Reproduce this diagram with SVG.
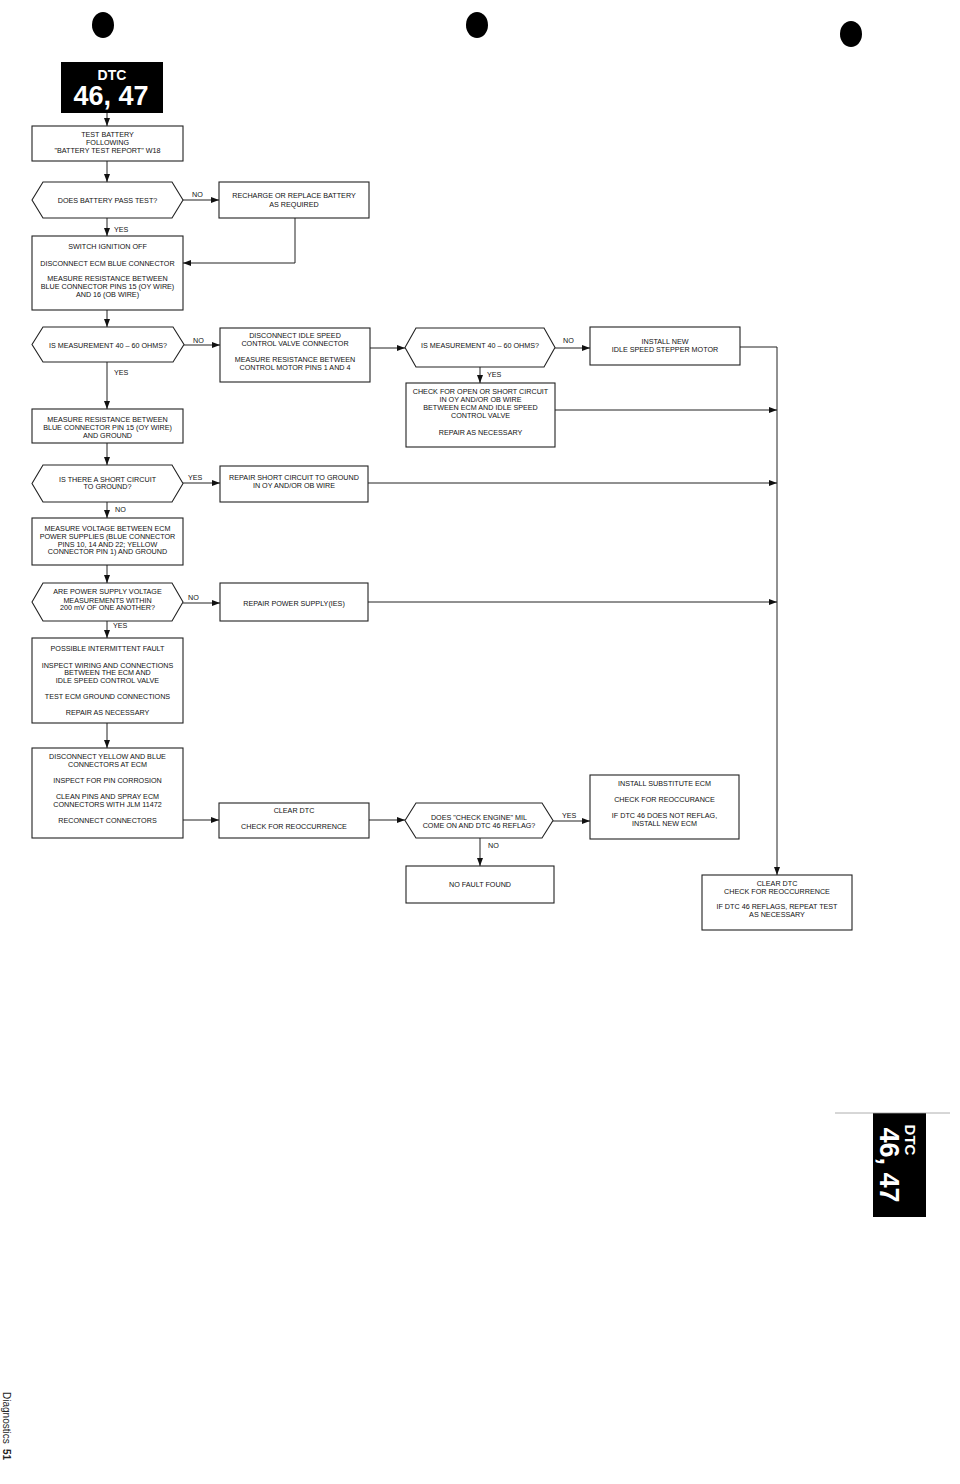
<svg xmlns="http://www.w3.org/2000/svg" width="960" height="1484" viewBox="0 0 960 1484">
<defs>
<marker id="arr" markerWidth="8" markerHeight="6" refX="8" refY="3" orient="auto" markerUnits="userSpaceOnUse">
<path d="M0,0 L8,3 L0,6 Z" fill="#111"/>
</marker>
<style>
.b{fill:#fff;stroke:#222;stroke-width:1.1}
.t{font-family:"Liberation Sans",Arial,sans-serif;font-size:7.2px;fill:#111;text-anchor:middle}
.l{font-family:"Liberation Sans",Arial,sans-serif;font-size:7.2px;fill:#111}
.c{fill:none;stroke:#222;stroke-width:1}
.ca{fill:none;stroke:#222;stroke-width:1;marker-end:url(#arr)}
</style>
</defs>
<rect width="960" height="1484" fill="#fff"/>
<g id="holes">
<ellipse cx="103" cy="25" rx="11" ry="13" fill="#000"/>
<ellipse cx="477" cy="25" rx="11" ry="13" fill="#000"/>
<ellipse cx="851" cy="34" rx="11" ry="13" fill="#000"/>
</g>
<g id="header">
<rect x="61" y="62" width="102" height="51" fill="#000"/>
<text x="112" y="80" font-family="Liberation Sans,Arial,sans-serif" font-weight="bold" font-size="14" fill="#fff" text-anchor="middle">DTC</text>
<text x="111" y="105" font-family="Liberation Sans,Arial,sans-serif" font-weight="bold" font-size="27" fill="#fff" text-anchor="middle">46, 47</text>
</g>
<g id="n1"><rect class="b" x="32" y="126" width="151" height="35"/>
<text class="t" x="107.5" y="137">TEST BATTERY</text><text class="t" x="107.5" y="145">FOLLOWING</text><text class="t" x="107.5" y="153">"BATTERY TEST REPORT" W18</text></g>
<g id="d1"><path class="b" d="M32,200 L43,182 L172,182 L183,200 L172,218 L43,218 Z"/>
<text class="t" x="107.5" y="202.5">DOES BATTERY PASS TEST?</text></g>
<g id="n2"><rect class="b" x="219" y="182" width="150" height="36"/>
<text class="t" x="294" y="198">RECHARGE OR REPLACE BATTERY</text><text class="t" x="294" y="206.5">AS REQUIRED</text></g>
<g id="n3"><rect class="b" x="32" y="236" width="151" height="74"/>
<text class="t" x="107.5" y="249">SWITCH IGNITION OFF</text>
<text class="t" x="107.5" y="266">DISCONNECT ECM BLUE CONNECTOR</text>
<text class="t" x="107.5" y="281">MEASURE RESISTANCE BETWEEN</text>
<text class="t" x="107.5" y="289">BLUE CONNECTOR PINS 15 (OY WIRE)</text>
<text class="t" x="107.5" y="297">AND 16 (OB WIRE)</text></g>
<g id="d2"><path class="b" d="M32,344.5 L43,327 L173,327 L184,344.5 L173,362 L43,362 Z"/>
<text class="t" x="108" y="347.5">IS MEASUREMENT 40 – 60 OHMS?</text></g>
<g id="n4"><rect class="b" x="220" y="328" width="150" height="54"/>
<text class="t" x="295" y="338">DISCONNECT IDLE SPEED</text>
<text class="t" x="295" y="346">CONTROL VALVE CONNECTOR</text>
<text class="t" x="295" y="362">MEASURE RESISTANCE BETWEEN</text>
<text class="t" x="295" y="370">CONTROL MOTOR PINS 1 AND 4</text></g>
<g id="d3"><path class="b" d="M405,347.5 L416,328 L544,328 L555,347.5 L544,367 L416,367 Z"/>
<text class="t" x="480" y="347.5">IS MEASUREMENT 40 – 60 OHMS?</text></g>
<g id="n5"><rect class="b" x="590" y="327" width="150" height="38"/>
<text class="t" x="665" y="344">INSTALL NEW</text><text class="t" x="665" y="352">IDLE SPEED STEPPER MOTOR</text></g>
<g id="n6"><rect class="b" x="406" y="383" width="149" height="64"/>
<text class="t" x="480.5" y="394">CHECK FOR OPEN  OR SHORT CIRCUIT</text>
<text class="t" x="480.5" y="402">IN OY AND/OR OB WIRE</text>
<text class="t" x="480.5" y="409.5">BETWEEN ECM AND IDLE SPEED</text>
<text class="t" x="480.5" y="417.5">CONTROL VALVE</text>
<text class="t" x="480.5" y="435">REPAIR AS NECESSARY</text></g>
<g id="n7"><rect class="b" x="32" y="409" width="151" height="34"/>
<text class="t" x="107.5" y="421.5">MEASURE RESISTANCE BETWEEN</text>
<text class="t" x="107.5" y="430">BLUE CONNECTOR PIN 15 (OY WIRE)</text>
<text class="t" x="107.5" y="438">AND GROUND</text></g>
<g id="d4"><path class="b" d="M32,483.5 L43,465 L172,465 L183,483.5 L172,502 L43,502 Z"/>
<text class="t" x="107.5" y="481.5">IS THERE A SHORT CIRCUIT</text><text class="t" x="107.5" y="489">TO GROUND?</text></g>
<g id="n8"><rect class="b" x="220" y="466" width="148" height="36"/>
<text class="t" x="294" y="480">REPAIR SHORT CIRCUIT TO GROUND</text><text class="t" x="294" y="487.5">IN OY AND/OR OB WIRE</text></g>
<g id="n9"><rect class="b" x="32" y="518" width="151" height="47"/>
<text class="t" x="107.5" y="531">MEASURE VOLTAGE BETWEEN ECM</text>
<text class="t" x="107.5" y="538.5">POWER SUPPLIES (BLUE CONNECTOR</text>
<text class="t" x="107.5" y="546.5">PINS 10, 14 AND 22; YELLOW</text>
<text class="t" x="107.5" y="554">CONNECTOR PIN 1) AND GROUND</text></g>
<g id="d5"><path class="b" d="M32,602 L43,583 L172,583 L183,602 L172,621 L43,621 Z"/>
<text class="t" x="107.5" y="594">ARE POWER SUPPLY VOLTAGE</text>
<text class="t" x="107.5" y="602.5">MEASUREMENTS WITHIN</text>
<text class="t" x="107.5" y="610">200 mV OF ONE ANOTHER?</text></g>
<g id="n10"><rect class="b" x="220" y="583" width="148" height="38"/>
<text class="t" x="294" y="606">REPAIR POWER SUPPLY(IES)</text></g>
<g id="n11"><rect class="b" x="32" y="638" width="151" height="85"/>
<text class="t" x="107.5" y="651">POSSIBLE INTERMITTENT FAULT</text>
<text class="t" x="107.5" y="667.5">INSPECT WIRING AND CONNECTIONS</text>
<text class="t" x="107.5" y="675">BETWEEN THE ECM AND</text>
<text class="t" x="107.5" y="683">IDLE SPEED CONTROL VALVE</text>
<text class="t" x="107.5" y="699">TEST ECM GROUND CONNECTIONS</text>
<text class="t" x="107.5" y="715">REPAIR AS NECESSARY</text></g>
<g id="n12"><rect class="b" x="32" y="748" width="151" height="90"/>
<text class="t" x="107.5" y="758.5">DISCONNECT YELLOW AND BLUE</text>
<text class="t" x="107.5" y="766.5">CONNECTORS AT ECM</text>
<text class="t" x="107.5" y="783">INSPECT FOR PIN CORROSION</text>
<text class="t" x="107.5" y="799">CLEAN PINS AND SPRAY ECM</text>
<text class="t" x="107.5" y="807">CONNECTORS WITH JLM 11472</text>
<text class="t" x="107.5" y="822.5">RECONNECT CONNECTORS</text></g>
<g id="n13"><rect class="b" x="219" y="803" width="150" height="35"/>
<text class="t" x="294" y="813">CLEAR DTC</text><text class="t" x="294" y="829">CHECK FOR REOCCURRENCE</text></g>
<g id="d6"><path class="b" d="M405,820.5 L416,803 L542,803 L553,820.5 L542,838 L416,838 Z"/>
<text class="t" x="479" y="820">DOES "CHECK ENGINE" MIL</text><text class="t" x="479" y="827.5">COME ON AND DTC 46 REFLAG?</text></g>
<g id="n14"><rect class="b" x="590" y="775" width="149" height="64"/>
<text class="t" x="664.5" y="786">INSTALL SUBSTITUTE ECM</text>
<text class="t" x="664.5" y="802">CHECK FOR REOCCURANCE</text>
<text class="t" x="664.5" y="817.5">IF DTC 46 DOES NOT REFLAG,</text>
<text class="t" x="664.5" y="826">INSTALL NEW ECM</text></g>
<g id="n15"><rect class="b" x="406" y="866" width="148" height="37"/>
<text class="t" x="480" y="886.5">NO FAULT FOUND</text></g>
<g id="n16"><rect class="b" x="702" y="875" width="150" height="55"/>
<text class="t" x="777" y="886">CLEAR DTC</text>
<text class="t" x="777" y="893.5">CHECK FOR REOCCURRENCE</text>
<text class="t" x="777" y="909">IF DTC 46 REFLAGS, REPEAT TEST</text>
<text class="t" x="777" y="916.5">AS NECESSARY</text></g>
<g id="connectors">
<path class="ca" d="M107,113 V126"/>
<path class="ca" d="M107,161 V182"/>
<path class="ca" d="M183,200 H219"/>
<path class="ca" d="M295,218 V263 H183"/>
<path class="ca" d="M107,218 V236"/>
<path class="ca" d="M107,310 V327"/>
<path class="ca" d="M184,345 H220"/>
<path class="ca" d="M370,348 H405"/>
<path class="ca" d="M555,348 H590"/>
<path class="ca" d="M480,367 V383"/>
<path class="ca" d="M740,347 H777 V875"/>
<path class="ca" d="M555,410 H777"/>
<path class="ca" d="M107,362 V409"/>
<path class="ca" d="M107,443 V465"/>
<path class="ca" d="M183,483 H220"/>
<path class="ca" d="M368,483 H777"/>
<path class="ca" d="M107,502 V518"/>
<path class="ca" d="M107,565 V583"/>
<path class="ca" d="M183,603 H220"/>
<path class="ca" d="M368,602 H777"/>
<path class="ca" d="M107,621 V638"/>
<path class="ca" d="M107,723 V748"/>
<path class="ca" d="M183,820 H219"/>
<path class="ca" d="M369,820 H405"/>
<path class="ca" d="M553,821 H590"/>
<path class="ca" d="M480,838 V866"/>
</g>
<g id="labels">
<text class="l" x="192" y="197">NO</text>
<text class="l" x="114" y="232">YES</text>
<text class="l" x="193" y="343">NO</text>
<text class="l" x="114" y="375">YES</text>
<text class="l" x="563" y="343">NO</text>
<text class="l" x="487" y="377">YES</text>
<text class="l" x="188" y="480">YES</text>
<text class="l" x="115" y="512">NO</text>
<text class="l" x="188" y="600">NO</text>
<text class="l" x="113" y="628">YES</text>
<text class="l" x="562" y="818">YES</text>
<text class="l" x="488" y="848">NO</text>
</g>
<g id="tab">
<rect x="873" y="1113" width="53" height="104" fill="#000"/>
<line x1="835" y1="1113" x2="950" y2="1113" stroke="#999" stroke-width="0.8"/>
<text transform="translate(880,1165) rotate(90)" font-family="Liberation Sans,Arial,sans-serif" font-weight="bold" font-size="27" fill="#fff" text-anchor="middle">46, 47</text>
<text transform="translate(905,1140) rotate(90)" font-family="Liberation Sans,Arial,sans-serif" font-weight="bold" font-size="15" fill="#fff" text-anchor="middle">DTC</text>
</g>
<g id="footer">
<text transform="translate(3,1392) rotate(90)" font-family="Liberation Sans,Arial,sans-serif" font-size="10" fill="#222">Diagnostics</text>
<text transform="translate(3,1449) rotate(90)" font-family="Liberation Sans,Arial,sans-serif" font-weight="bold" font-size="10" fill="#222">51</text>
</g>
</svg>
